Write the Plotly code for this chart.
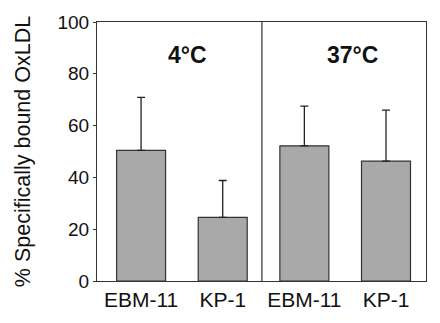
import plotly.graph_objects as go

categories = ["EBM-11", "KP-1", "EBM-11", "KP-1"]
values = [50.4, 24.6, 52.2, 46.3]
errors = [20.5, 14.2, 15.3, 19.7]
positions = [0, 1, 2, 3]
group_labels = ["4°C", "37°C"]
group_centers = [0.57, 2.585]
y_ticks = [0, 20, 40, 60, 80, 100]

fig = go.Figure()
fig.add_trace(go.Bar(
    x=positions, y=values, width=0.6,
    marker=dict(color="#a9a9a9", line=dict(color="#333333", width=1.2)),
    error_y=dict(type="data", array=errors, arrayminus=[0]*4, symmetric=False,
                 color="#222222", thickness=1.3, width=4),
))

fig.add_vline(x=1.48, line=dict(color="#333333", width=1.2))

for lbl, cx in zip(group_labels, group_centers):
    fig.add_annotation(x=cx, y=87.3, text="<b>%s</b>" % lbl, showarrow=False,
                       font=dict(family="Liberation Sans, Arial", size=23, color="#111111"))

fig.update_layout(
    width=440, height=323,
    margin=dict(l=97, r=14, t=19, b=36),
    paper_bgcolor="white", plot_bgcolor="white",
    showlegend=False,
    font=dict(family="Liberation Sans, Arial", color="#111111"),
    xaxis=dict(range=[-0.54, 3.49], tickvals=positions, ticktext=categories,
               showline=True, linecolor="#333333", linewidth=1.2, mirror=True,
               ticks="", showgrid=False, zeroline=False,
               tickfont=dict(size=21)),
    yaxis=dict(range=[0, 100], tickvals=y_ticks, showline=True, linecolor="#333333",
               linewidth=1.2, mirror=True, ticks="outside", ticklen=3, tickcolor="#333333",
               showgrid=False, zeroline=False, tickfont=dict(size=19),
               title=dict(text="% Specifically bound OxLDL", font=dict(size=21.5), standoff=20)),
)

fig.write_html("out.html")
